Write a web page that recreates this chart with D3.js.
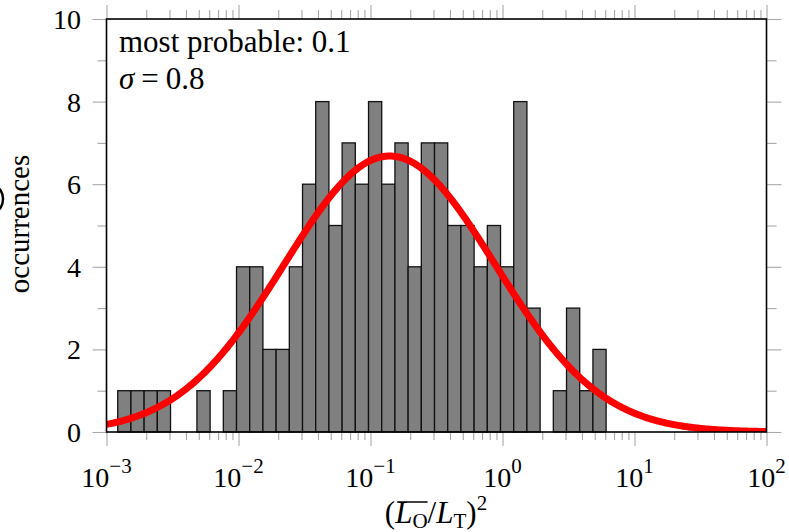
<!DOCTYPE html>
<html><head><meta charset="utf-8">
<script src="https://cdn.jsdelivr.net/npm/d3@7"></script>
<style>
body{margin:0;background:#fff}
text{font-family:"Liberation Serif","Times New Roman",serif;fill:#000}
</style>
</head><body>
<svg id="c" width="789" height="532"></svg>
<script>
// ---- data ----
const counts = [1,1,1,1,0,0,1,0,1,4,4,2,2,4,6,8,5,7,6,8,6,7,4,7,7,5,5,4,5,4,8,3,0,1,3,1,2];
const binStartLog10 = -2.915;
const binWidthLog10 = 0.1;
const xDecades = [-3,-2,-1,0,1,2];
const xMinorMultipliers = [2,3,4,5,6,7,8,9];
const yMajor = [0,2,4,6,8,10];
const yMinor = [1,3,5,7,9];
const fitMu = -0.855;     // log10 of most probable value
const fitSigma = 0.8;     // in decades
const annotationLines = ["most probable: 0.1", "σ = 0.8"];
const yLabel = "occurrences";

// ---- layout ----
const L = 106.5, R = 766.5, T = 19, B = 432;
const svg = d3.select("#c");
const x = d3.scaleLog().domain([1e-3, 1e2]).range([L, R]);
const y = d3.scaleLinear().domain([0, 10]).range([B, T]);

const tickColor = "#a8a8a8";
function styleAxis(g){
  g.select(".domain").remove();
  g.selectAll(".tick line").attr("stroke", tickColor).attr("stroke-width", 1.1);
  g.selectAll(".tick text").remove();
}
const majorX = xDecades.map(d => Math.pow(10, d));
const minorX = [];
xDecades.slice(0, -1).forEach(d => xMinorMultipliers.forEach(m => minorX.push(m * Math.pow(10, d))));

svg.append("g").attr("transform", `translate(0,${B})`).call(d3.axisBottom(x).tickValues(majorX).tickSize(14)).call(styleAxis);
svg.append("g").attr("transform", `translate(0,${B})`).call(d3.axisBottom(x).tickValues(minorX).tickSize(8)).call(styleAxis);
svg.append("g").attr("transform", `translate(0,${T})`).call(d3.axisTop(x).tickValues(majorX).tickSize(14)).call(styleAxis);
svg.append("g").attr("transform", `translate(0,${T})`).call(d3.axisTop(x).tickValues(minorX).tickSize(9)).call(styleAxis);
svg.append("g").attr("transform", `translate(${L},0)`).call(d3.axisLeft(y).tickValues(yMajor).tickSize(14)).call(styleAxis);
svg.append("g").attr("transform", `translate(${L},0)`).call(d3.axisLeft(y).tickValues(yMinor).tickSize(9)).call(styleAxis);
svg.append("g").attr("transform", `translate(${R},0)`).call(d3.axisRight(y).tickValues(yMajor).tickSize(15)).call(styleAxis);
svg.append("g").attr("transform", `translate(${R},0)`).call(d3.axisRight(y).tickValues(yMinor).tickSize(10)).call(styleAxis);

// ---- bars ----
const bins = counts.map((c, i) => ({
  x0: Math.pow(10, binStartLog10 + i * binWidthLog10),
  x1: Math.pow(10, binStartLog10 + (i + 1) * binWidthLog10),
  c
})).filter(b => b.c > 0);
svg.append("g").selectAll("rect").data(bins).join("rect")
  .attr("x", d => x(d.x0)).attr("width", d => x(d.x1) - x(d.x0))
  .attr("y", d => y(d.c)).attr("height", d => y(0) - y(d.c))
  .attr("fill", "#808080").attr("stroke", "#111").attr("stroke-width", 1.3);

// ---- fitted log-normal curve ----
const total = d3.sum(counts);
const amp = total * binWidthLog10 / (fitSigma * Math.sqrt(2 * Math.PI));
const curvePts = d3.range(-3, 2.0001, 0.01).map(l => [Math.pow(10, l), amp * Math.exp(-((l - fitMu) ** 2) / (2 * fitSigma * fitSigma))]);
svg.append("clipPath").attr("id", "clip").append("rect").attr("x", L).attr("y", T).attr("width", R - L).attr("height", B - T);
svg.append("path").datum(curvePts)
  .attr("clip-path", "url(#clip)")
  .attr("d", d3.line().x(d => x(d[0])).y(d => y(d[1])))
  .attr("fill", "none").attr("stroke", "#ff0000").attr("stroke-width", 7);

// ---- box ----
svg.append("rect").attr("x", L).attr("y", T).attr("width", R - L).attr("height", B - T)
  .attr("fill", "none").attr("stroke", "#000").attr("stroke-width", 1.6);

// ---- tick labels ----
const xl = svg.append("g").selectAll("text").data(xDecades).join("text")
  .attr("x", d => x(Math.pow(10, d))).attr("y", 487).attr("text-anchor", "middle")
  .style("font-size", "28px");
xl.append("tspan").text("10");
xl.append("tspan").attr("dy", -14).style("font-size", "21px").text(d => (d < 0 ? "\u2212" + (-d) : String(d)));

svg.append("g").selectAll("text").data(yMajor).join("text")
  .attr("x", 81).attr("y", d => y(d) + 10).attr("text-anchor", "end")
  .style("font-size", "28px").text(d => d);

// ---- annotation ----
const ann = svg.append("g").style("font-size", "31px");
ann.append("text").attr("x", 119).attr("y", 52).text(annotationLines[0]);
const s = ann.append("text").attr("x", 119).attr("y", 89);
s.append("tspan").style("font-style", "italic").text("σ");
s.append("tspan").attr("dx", 7).text("=");
s.append("tspan").attr("dx", 7).text("0.8");

// ---- axis labels ----
svg.append("text").attr("transform", "translate(29,224) rotate(-90)")
  .attr("text-anchor", "middle").style("font-size", "29px").text(yLabel);

const xt = svg.append("text").attr("x", 436).attr("y", 523).attr("text-anchor", "middle").style("font-size", "31px");
xt.append("tspan").text("(");
xt.append("tspan").style("font-style", "italic").text("L");
xt.append("tspan").attr("dy", 5).style("font-size", "21px").text("O");
xt.append("tspan").attr("dy", -5).text("/");
xt.append("tspan").style("font-style", "italic").text("L");
xt.append("tspan").attr("dy", 5).style("font-size", "21px").text("T");
xt.append("tspan").attr("dy", -5).text(")");
xt.append("tspan").attr("dy", -13).style("font-size", "21px").text("2");
const n = xt.node();
const ox0 = n.getStartPositionOfChar(1).x, ox1 = n.getEndPositionOfChar(2).x;
svg.append("line").attr("x1", ox0 + 2).attr("x2", ox1).attr("y1", 502).attr("y2", 502)
  .attr("stroke", "#000").attr("stroke-width", 1.5);

// partial glyph cut at the left edge
svg.append("ellipse").attr("cx", -5).attr("cy", 199).attr("rx", 8).attr("ry", 12)
  .attr("fill", "none").attr("stroke", "#000").attr("stroke-width", 2.5);
</script>
</body></html>
